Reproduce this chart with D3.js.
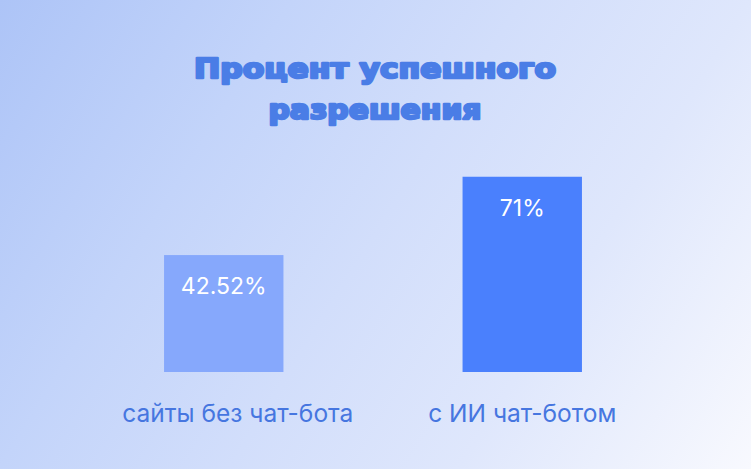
<!DOCTYPE html>
<html>
<head>
<meta charset="utf-8">
<script src="https://cdn.jsdelivr.net/npm/d3@7"></script>
<style>
  html, body { margin: 0; padding: 0; }
  svg { display: block; }
</style>
</head>
<body>
<svg id="chart"></svg>
<script>
// chart data
const categories = ['сайты без чат-бота', 'с ИИ чат-ботом'];
const values = [42.52, 71];
const valueLabels = ['42.52%', '71%'];
const titleLines = ['Процент успешного', 'разрешения'];

const width = 751;
const height = 469;
const baseY = 372;

const svg = d3.select('#chart')
  .attr('width', width)
  .attr('height', height);

// background gradient, light blue top-left fading to white bottom-right
const grad = svg.append('defs').append('linearGradient')
  .attr('id', 'bg')
  .attr('gradientUnits', 'userSpaceOnUse')
  .attr('x1', 0).attr('y1', 0)
  .attr('x2', width).attr('y2', height);
grad.append('stop').attr('offset', '0%').attr('stop-color', '#adc4f7');
grad.append('stop').attr('offset', '28%').attr('stop-color', '#c3d4fa');
grad.append('stop').attr('offset', '50%').attr('stop-color', '#d2defb');
grad.append('stop').attr('offset', '72%').attr('stop-color', '#dfe7fc');
grad.append('stop').attr('offset', '100%').attr('stop-color', '#f8f9fe');

svg.append('rect')
  .attr('width', width)
  .attr('height', height)
  .attr('fill', 'url(#bg)');

// title (wide heavy font, stretched and stroked to match)
const titleWidths = [362, 213];
svg.selectAll('text.title')
  .data(titleLines)
  .enter()
  .append('text')
  .attr('class', 'title')
  .attr('x', 375)
  .attr('y', (d, i) => 78 + i * 41)
  .attr('text-anchor', 'middle')
  .attr('textLength', (d, i) => titleWidths[i])
  .attr('lengthAdjust', 'spacingAndGlyphs')
  .style('font-family', '"DejaVu Sans", sans-serif')
  .style('font-weight', 'bold')
  .style('font-size', '27px')
  .style('fill', '#4a7de6')
  .style('stroke', '#4a7de6')
  .style('stroke-width', '2.4px')
  .style('stroke-linejoin', 'round')
  .text(d => d);

const x = d3.scaleBand()
  .domain(categories)
  .range([74.5, 671.5])
  .paddingInner(0.6)
  .paddingOuter(0.3);

const y = d3.scaleLinear()
  .domain([0, 100])
  .range([baseY, 97]);

const barColors = ['#86a8fc', '#4a80fd'];

svg.selectAll('rect.bar')
  .data(values)
  .enter()
  .append('rect')
  .attr('class', 'bar')
  .attr('x', (d, i) => x(categories[i]))
  .attr('y', d => y(d))
  .attr('width', x.bandwidth())
  .attr('height', d => y(0) - y(d))
  .attr('fill', (d, i) => barColors[i]);

// value labels inside the bars
svg.selectAll('text.value')
  .data(values)
  .enter()
  .append('text')
  .attr('class', 'value')
  .attr('x', (d, i) => x(categories[i]) + x.bandwidth() / 2)
  .attr('y', d => y(d) + 39)
  .attr('text-anchor', 'middle')
  .style('font-family', 'Inter, sans-serif')
  .style('font-size', '23px')
  .style('fill', '#ffffff')
  .text((d, i) => valueLabels[i]);

// category labels under the bars (first one sits a bit right of its bar)
svg.selectAll('text.cat')
  .data(categories)
  .enter()
  .append('text')
  .attr('class', 'cat')
  .attr('x', d => x(d) + x.bandwidth() / 2)
  .attr('dx', (d, i) => i === 0 ? 14 : 0)
  .attr('y', 422)
  .attr('text-anchor', 'middle')
  .style('font-family', 'Inter, sans-serif')
  .style('font-size', '24.5px')
  .style('fill', '#4676e0')
  .text(d => d);
</script>
</body>
</html>
